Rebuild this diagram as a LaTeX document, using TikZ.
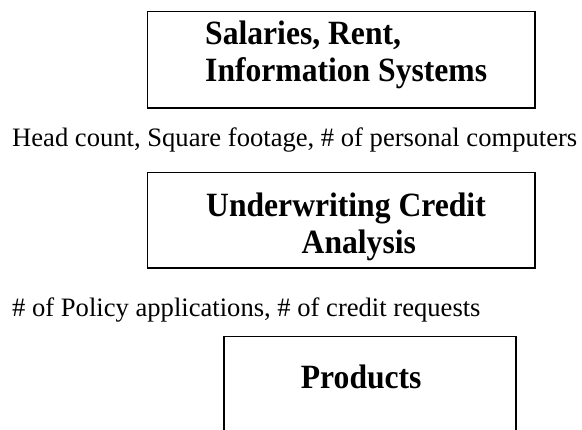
\documentclass[tikz,border=0pt]{standalone}
\usepackage{fontspec}
\setmainfont{Liberation Serif}
\newfontfamily\bxfont[FakeStretch=0.93]{Liberation Serif}
\begin{document}
\begin{tikzpicture}[x=1pt,y=-1pt,
  box/.style={draw,line width=1.5pt,inner sep=0pt,anchor=north west},
  boxtext/.style={font=\bxfont\bfseries\fontsize{34}{38}\selectfont,inner sep=0pt,anchor=base west},
  lbl/.style={font=\fontsize{26.6}{31}\selectfont,inner sep=0pt,anchor=base west}]
\useasboundingbox (0,0) rectangle (582,430);
\clip (0,0) rectangle (582,430);
\node[box,minimum width=387.3pt,minimum height=96.3pt] (b1) at (146.7,11) {};
\node[boxtext] (t1a) at (205,45) {Salaries, Rent,};
\node[boxtext] (t1b) at (205,82) {Information Systems};
\node[lbl] (l1) at (12,147) {Head count, Square footage, \# of personal computers};
\node[box,minimum width=387.3pt,minimum height=95.6pt] (b2) at (146.7,171.7) {};
\node[boxtext] (t2a) at (206,216.7) {Underwriting Credit};
\node[boxtext] (t2b) at (301.5,253.3) {Analysis};
\node[lbl] (l2) at (12,316.5) {\# of Policy applications, \# of credit requests};
\node[box,minimum width=292pt,minimum height=110pt] (b3) at (223,336) {};
\node[boxtext] (t3) at (300.7,389) {Products};
\end{tikzpicture}
\end{document}
